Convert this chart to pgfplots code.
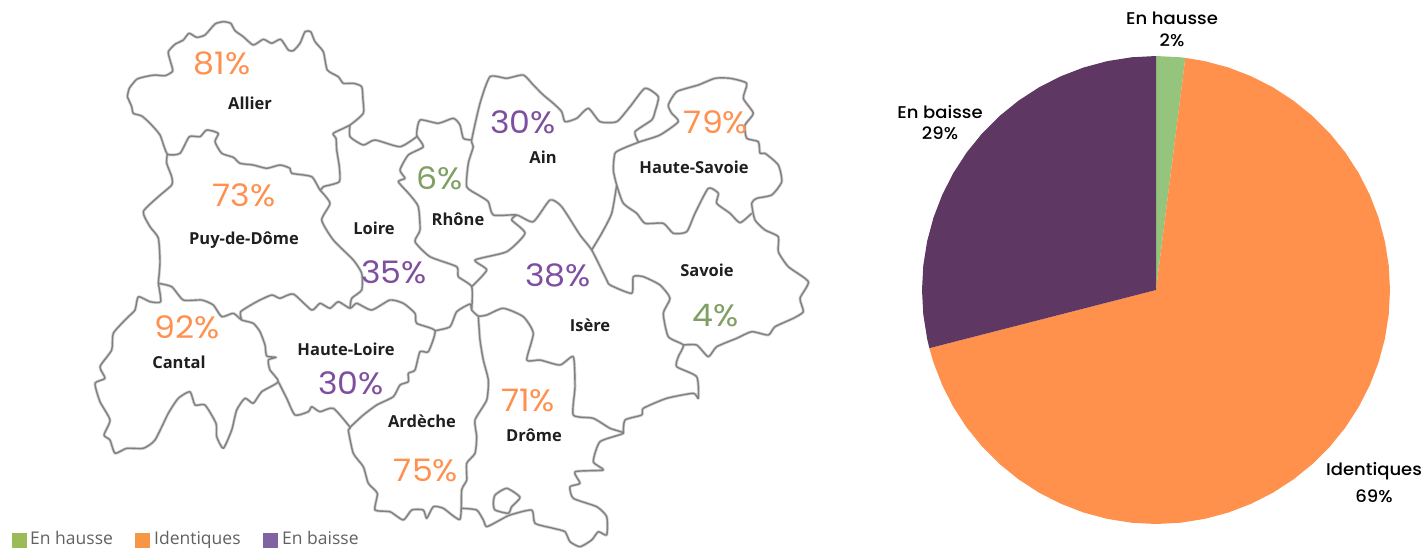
\documentclass[border=0pt]{standalone}
\usepackage{fontspec}
\usepackage{pgfplots}
\usepackage{pgfplotstable}
\pgfplotsset{compat=1.18}
\setmainfont{Poppins}[FakeStretch=1.07]
\newfontfamily\pielab{Poppins Medium}[FakeStretch=1.06]
\newfontfamily\mapfont{Open Sans}
\definecolor{pieG}{HTML}{95C47C}
\definecolor{pieO}{HTML}{FF914D}
\definecolor{pieP}{HTML}{5E3762}
\definecolor{txtO}{HTML}{FF9150}
\definecolor{txtP}{HTML}{7F4F9F}
\definecolor{txtG}{HTML}{7F9F63}
\definecolor{legG}{HTML}{9BBB59}
\definecolor{legO}{HTML}{F79646}
\definecolor{legP}{HTML}{8064A2}
\pgfplotstableread{
x y
127.3 96.7
129.3 88.3
136.7 79.3
145 76.7
155 75
165 75.7
172.7 71
170 60
168.3 51.7
175 44.3
183.3 40
189 33.3
196.7 37.3
205 35
215 24
223.3 21.7
230.7 23.3
235 30.7
243.3 36.7
253.3 45
263.3 39.3
271.7 43.3
280.7 39.3
288.3 50
293.3 50.7
300 43.3
305 31.7
310.7 31.7
315 41.7
323.3 51.7
327.3 70
338.3 76.7
343.3 83.3
353.3 83.3
361.7 86.7
363 100
363.3 113.3
350 125
333.3 133.3
336 138.3
336.7 150
339.3 166.7
339.3 181.7
323.3 186.7
320 190
311.7 176.7
291.7 173.3
290 168.3
280 165
266.7 168.3
253.3 165
240 163.3
233.3 157.3
221.7 153.3
215 141.7
218.3 133.3
206.7 130
200 136.7
189.3 136.7
180 153.3
167.3 154
160 135
150 123.3
141.7 116
133.3 113.3
131.7 106.7
127.3 96.7
nan nan
167.3 154
166.7 163.3
171.7 176.7
171.7 185
158.3 196.7
143.3 211.7
150 226.7
158.3 238
160 262
158.3 283.3
nan nan
158.3 283.3
171.7 286.7
183.3 300
201.7 300
213.3 305
221.7 316.7
233.3 313.3
241.7 320
253.3 323.3
260 331.7
265 345
266.7 356
276 357.3
268.3 360
270 370
278.3 381.7
261.7 391.7
253.3 403.3
245 398.3
236.7 410
231.7 430
223.3 448.3
216.7 436.7
216 423.3
205 405
195 405
190 391.7
178.3 398.3
168.3 413.3
155 440
143.3 448.3
126.7 448.3
115 453.3
110 440
104 435
110 420
100 401.7
95 383.3
105 378.3
100 366.7
111.7 350
113.3 333.3
126.7 318.3
135 310
138.3 296.7
150 301.7
160.7 301.7
158.3 283.3
nan nan
241.7 320
240.7 311.7
256.7 301.7
271.7 295
280 298.3
293.3 294
311.7 310
320 303.3
330 308.3
338.3 301.7
350 308.3
356.7 303.3
371.7 310
390 300
403.3 303.3
415 313.3
416.7 323.3
435 330.7
428.3 351.7
420 351.7
415 370
408.3 373.3
408.3 381.7
400 385
393.3 396.7
376.7 405
363.3 415
350 427.3
nan nan
278.3 381.7
286.7 398.3
295 415
308.3 411.7
311.7 406.7
320 411.7
333.3 408.3
350 427.3
348.3 430
353.3 453.3
363.3 466.7
368.3 483.3
377.3 493.3
375 510
390 511.7
403.3 520
411.7 510
423.3 510
426.7 518.3
433.3 506.7
443.3 508.3
460 519.3
461.7 490
466.7 480
466.7 463.3
475 453.3
476.7 436.7
475 420
486.7 400
488.3 380
483.3 360
480 340
478.3 316
nan nan
435 330.7
450 326.7
456.7 311.7
470 304
471.7 310
478.3 316
486.7 315
503.3 308.3
523.3 316.7
533.3 333.3
526.7 360
540 360
560 365
573.3 356.7
575 386.7
573.3 415
593.3 418.3
610 428.3
623.3 433.3
600 441.7
593.3 461.7
603.3 470
575 471.7
580 483.3
570 486.7
573.3 498.3
596.7 506.7
606.7 516.7
606.7 535
598.3 531.7
591.7 540
580 546.7
570 541.7
565 531.7
553.3 528.3
535 523.3
531.7 510
510 515
500 520
486.7 526.7
483.3 520
476.7 510
461.7 508.3
nan nan
493.3 503.3
495 495
506.7 488.3
520 497.3
511.7 506.7
508.3 513.3
495 510
493.3 503.3
nan nan
623.3 433.3
625 420
641.7 415
643.3 408.3
666.7 398.3
693.3 393.3
698.3 398.3
696.7 376.7
676.7 366.7
678.3 356.7
683.3 345
668.3 336.7
663.3 313.3
670 298.3
660 285
643.3 276.7
633.3 276.7
631.7 293.3
610 285
606.7 280
591.7 250
580 235
561.7 206.7
550 200
533.3 221.7
516.7 215
493.3 215
488.3 201.7
478.3 195
466.7 186.7
468.3 163.3
473.3 146.7
471.7 140
480 103.3
490 76.7
506.7 78.3
523.3 75
533.3 85
543.3 95
553.3 103.3
561.7 111.7
565 121.7
576.7 118.3
588.3 108.3
600 121.7
616.7 121.7
630 106.7
645 88.3
658.3 96.7
655 111.7
651.7 120
635 131.7
638.3 141.7
nan nan
683.3 345
696.7 345
708.3 356.7
716.7 346.7
736.7 338.3
751.7 331.7
768.3 335
775 326.7
793.3 318.3
803.3 311.7
800 298.3
808.3 281.7
788.3 266.7
778.3 251.7
778.3 236.7
765 230
755 220
751.7 203.3
756.7 198.3
771.7 195
781.7 181.7
778.3 165
765 153.3
760 153.3
758.3 141.7
746.7 138.3
745 125
753.3 113.3
743.3 98.3
746.7 83.3
730 78.3
715 78.3
698.3 85
676.7 91.7
668.3 105
671.7 113.3
678.3 121.7
660 135
640 141.7
623.3 148.3
615 153.3
613.3 170
616.7 185
623.3 203.3
636.7 213.3
645 223.3
663.3 223.3
673.3 233.3
686.7 231.7
695 213.3
708.3 188.3
718.3 193.3
716.7 203.3
730 213.3
740 222.7
751.7 213.3
nan nan
616.7 185
611.7 213.3
601.7 233.3
591.7 250
nan nan
471.7 140
463.3 138.3
460 125
453.3 118.3
438.3 123.3
420 120
416.7 135
423.3 146.7
408.3 155
400 170
405 178.3
398.3 181.7
410 195
418.3 206.7
420 230
415 241.7
430 256.7
456.7 266.7
458.3 276.7
471.7 286.7
471.7 310
nan nan
350 125
350 136.7
363.3 145
375 140
400 146.7
416.7 136.7
nan nan
320 190
330 203.3
321.7 220
333.3 240
353.3 260
361.7 273.3
361.7 290
351.7 298.3
350 308.3
nan nan
516.7 215
511.7 220
525 233.3
506.7 251.7
475 260
486.7 270
471.7 286.7
}\maplines
\begin{document}
\begin{tikzpicture}
\path[use as bounding box] (0,0) rectangle (1426pt,547pt);
\begin{axis}[
  at={(0,0)},anchor=south west,
  width=1426pt,height=547pt,scale only axis,
  xmin=0,xmax=1426,ymin=0,ymax=547,y dir=reverse,
  hide axis,clip=false,unbounded coords=jump,
]
% map, soft halo then line
\addplot[no markers,smooth,tension=0.35,color=black!18,line width=3pt,line join=round] table {\maplines};
\addplot[no markers,smooth,tension=0.35,color=black!50,line width=1.4pt,line join=round] table {\maplines};
% pie
\addplot[fill=pieG,draw=none] coordinates {(1156,290) (1156,56) (1180.46,57.28) (1185.33,57.85)} -- cycle;
\addplot[fill=pieO,draw=none] coordinates {(1156,290) (1185.33,57.85) (1204.65,61.11) (1228.31,67.45) (1251.18,76.23) (1273,87.35) (1293.54,100.69) (1312.58,116.1) (1329.9,133.42) (1345.31,152.46) (1358.65,173) (1369.77,194.82) (1378.55,217.69) (1384.89,241.35) (1388.72,265.54) (1390,290) (1388.72,314.46) (1384.89,338.65) (1378.55,362.31) (1369.77,385.18) (1358.65,407) (1345.31,427.54) (1329.9,446.58) (1312.58,463.9) (1293.54,479.31) (1273,492.65) (1251.18,503.77) (1228.31,512.55) (1204.65,518.89) (1180.46,522.72) (1156,524) (1131.54,522.72) (1107.35,518.89) (1083.69,512.55) (1060.82,503.77) (1039,492.65) (1018.46,479.31) (999.42,463.9) (982.1,446.58) (966.69,427.54) (953.35,407) (942.23,385.18) (933.45,362.31) (929.35,348.19)} -- cycle;
\addplot[fill=pieP,draw=none] coordinates {(1156,290) (929.35,348.19) (927.11,338.65) (923.28,314.46) (922,290) (923.28,265.54) (927.11,241.35) (933.45,217.69) (942.23,194.82) (953.35,173) (966.69,152.46) (982.1,133.42) (999.42,116.1) (1018.46,100.69) (1039,87.35) (1060.82,76.23) (1083.69,67.45) (1107.35,61.11) (1131.54,57.28) (1156,56)} -- cycle;
% legend swatches
\addplot[only marks,mark=square*,mark size=7pt,color=legG] coordinates {(19.5,540)};
\addplot[only marks,mark=square*,mark size=7pt,color=legO] coordinates {(142,540)};
\addplot[only marks,mark=square*,mark size=7pt,color=legP] coordinates {(270,540)};
% legend text
\begin{scope}[every node/.style={font=\mapfont\fontsize{17.5}{17.5}\selectfont,text=black!62,anchor=base west,inner sep=0pt}]
\node at (axis cs:30,544) {En hausse};
\node at (axis cs:154,544) {Identiques};
\node at (axis cs:282,544) {En baisse};
\end{scope}
% department names
\begin{scope}[every node/.style={font=\mapfont\bfseries\fontsize{16.5}{16.5}\selectfont,text=black!88,inner sep=0pt}]
\node at (axis cs:250,103) {Allier};
\node at (axis cs:244,240) {Puy-de-Dôme};
\node at (axis cs:179,362) {Cantal};
\node at (axis cs:346,349) {Haute-Loire};
\node at (axis cs:422,421) {Ardèche};
\node at (axis cs:534,435) {Drôme};
\node at (axis cs:590,325) {Isère};
\node at (axis cs:374,228) {Loire};
\node at (axis cs:458,219) {Rhône};
\node at (axis cs:543,157) {Ain};
\node at (axis cs:694,167) {Haute-Savoie};
\node at (axis cs:707,270) {Savoie};
\end{scope}
% shares
\begin{scope}[every node/.style={font=\fontsize{31}{31}\selectfont,inner sep=0pt}]
\node[text=txtO] at (axis cs:222,63) {81\%};
\node[text=txtO] at (axis cs:244,195) {73\%};
\node[text=txtO] at (axis cs:187,327) {92\%};
\node[text=txtP] at (axis cs:351,383) {30\%};
\node[text=txtO] at (axis cs:426,470) {75\%};
\node[text=txtO] at (axis cs:528,400) {71\%};
\node[text=txtP] at (axis cs:558,275) {38\%};
\node[text=txtP] at (axis cs:394,272) {35\%};
\node[text=txtG] at (axis cs:440,178) {6\%};
\node[text=txtP] at (axis cs:523,122) {30\%};
\node[text=txtO] at (axis cs:716,122) {79\%};
\node[text=txtG] at (axis cs:716,316) {4\%};
\end{scope}
% pie labels
\begin{scope}[every node/.style={font=\pielab\fontsize{17}{17}\selectfont,text=black,inner sep=0pt}]
\node at (axis cs:1172,18) {En hausse};
\node at (axis cs:1172,40) {2\%};
\node at (axis cs:940,112) {En baisse};
\node at (axis cs:940,133) {29\%};
\node at (axis cs:1374,471) {Identiques};
\node at (axis cs:1374,496) {69\%};
\end{scope}
\end{axis}
\end{tikzpicture}
\end{document}
